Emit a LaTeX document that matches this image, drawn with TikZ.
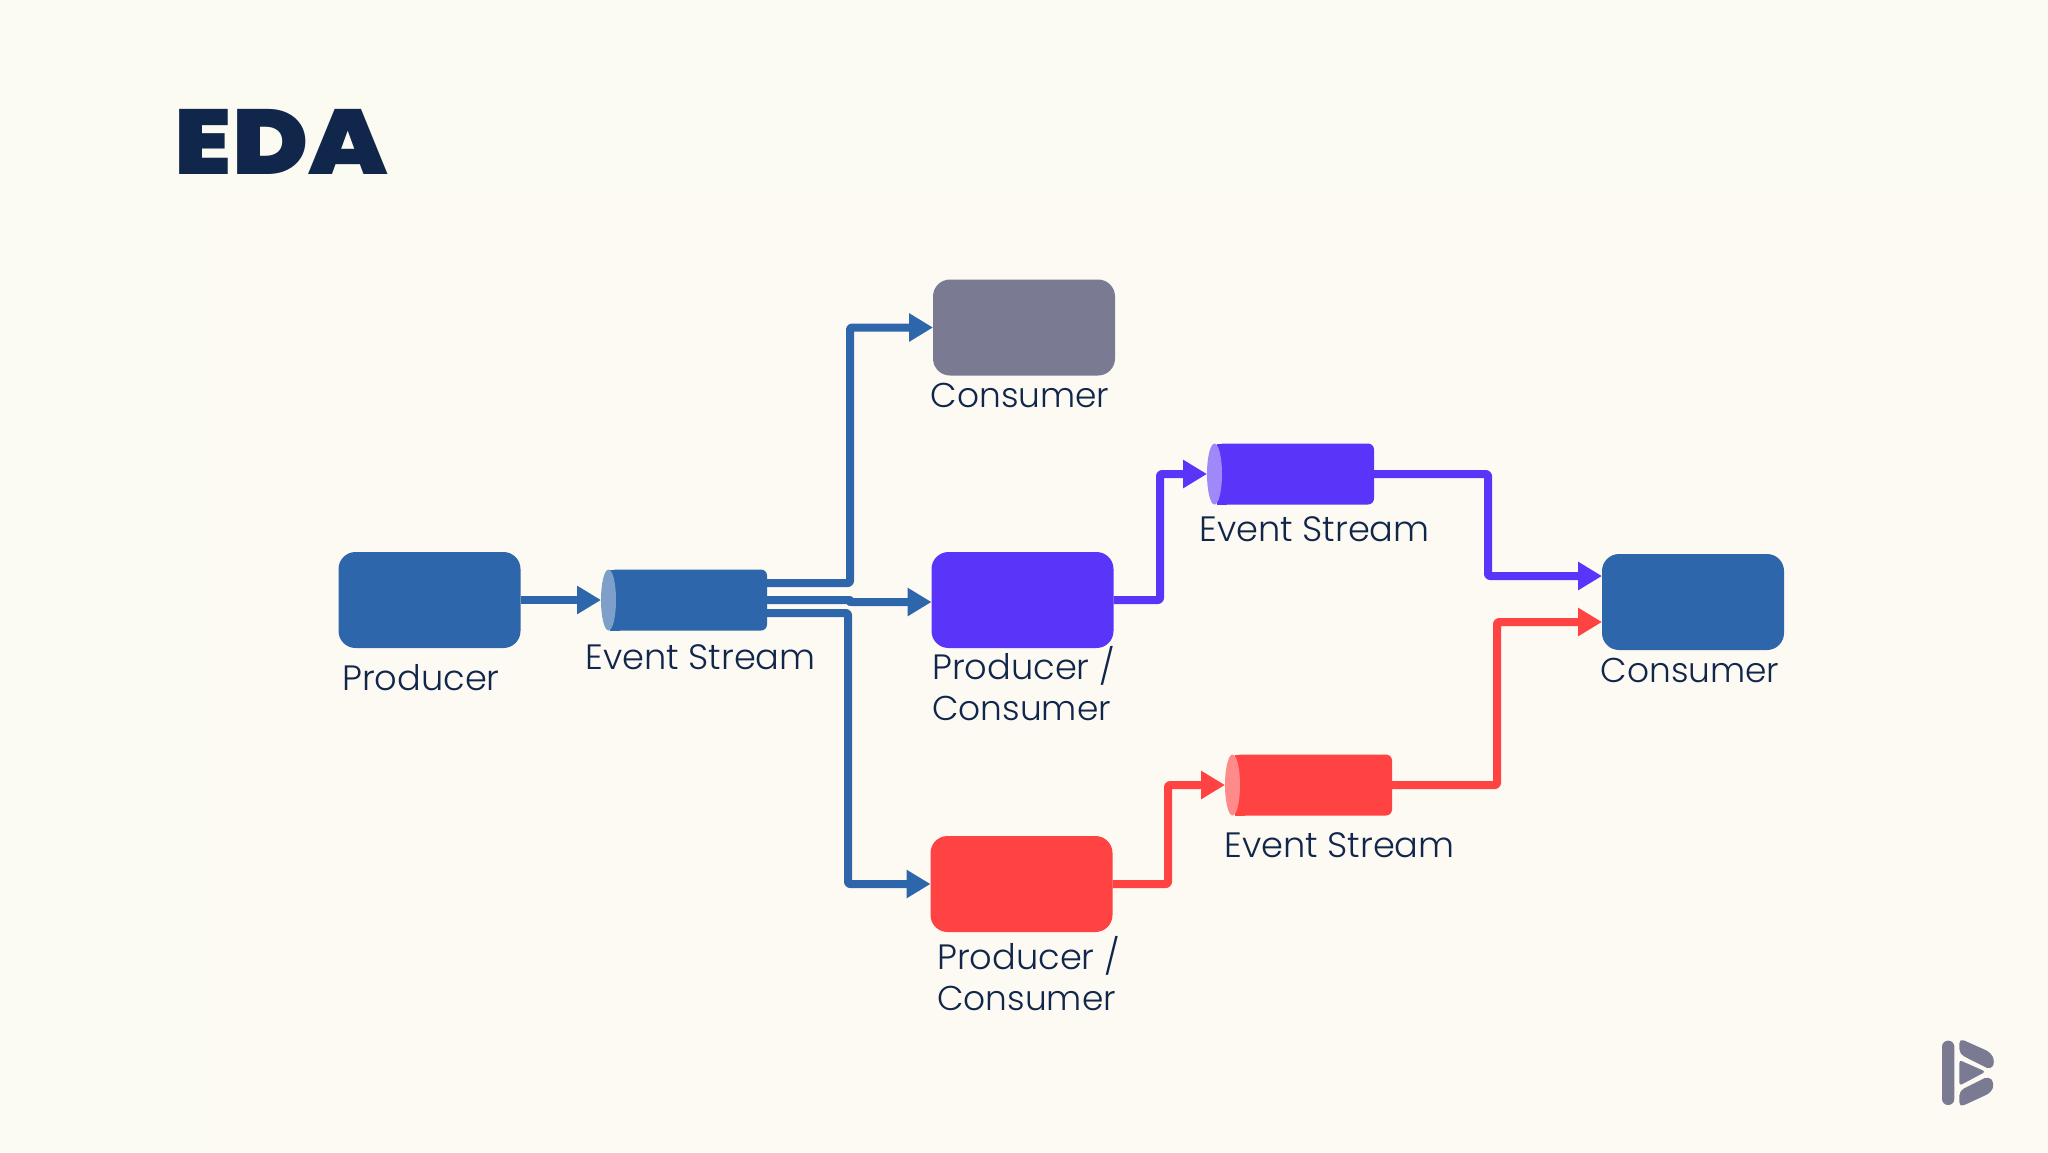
\documentclass[tikz,border=0pt]{standalone}
\usepackage{fontspec}
\setmainfont{Poppins}[UprightFont=* Light]
\newfontfamily\titlefont{Poppins Black}
\usetikzlibrary{arrows.meta,calc,shapes.geometric}
\newcommand{\cfont}{\fontsize{34.4}{41}\selectfont}
\definecolor{bg}{HTML}{FBFBF2}
\definecolor{bginner}{HTML}{FDFAF3}
\definecolor{ink}{HTML}{10264A}
\definecolor{cblue}{HTML}{2E66AC}
\definecolor{cpurple}{HTML}{5B34FA}
\definecolor{cred}{HTML}{FF4242}
\definecolor{cgray}{HTML}{7A7A92}
\definecolor{lblue}{HTML}{7F9FCB}
\definecolor{lpurple}{HTML}{A188F8}
\definecolor{lred}{HTML}{FF8A8A}
\tikzset{
  box/.style={rectangle,rounded corners=17pt,minimum width=182pt,minimum height=96pt,inner sep=0pt,outer sep=0pt},
  stream/.style={rectangle,rounded corners=6pt,minimum width=157pt,minimum height=61pt,inner sep=0pt,outer sep=0pt},
  endcap/.style={ellipse,minimum width=15pt,minimum height=61pt,inner sep=0pt,outer sep=0pt},
  lab/.style={font=\fontsize{35.2}{41}\selectfont,text=ink,inner sep=0pt,align=left},
  conn/.style={line width=8pt,line join=round,rounded corners=2pt},
  arr/.style={conn,-{Triangle[length=24pt,width=27pt]}}
}
\begin{document}
\begin{tikzpicture}[x=1pt,y=-1pt]
\useasboundingbox (0,0) rectangle (2048,1152);
\fill[bg] (0,0) rectangle (2048,1152);
\fill[bginner] (200,195) rectangle (2048,1152);
\node[font=\fontsize{92}{92}\titlefont,text=ink,inner sep=0pt,anchor=center,xscale=1.118] (title) at (281.5,142) {EDA};

% boxes
\node[box,fill=cblue] (prod) at (429.5,600) {};
\node[box,fill=cgray] (cons1) at (1024,327.5) {};
\node[box,fill=cpurple] (pc1) at (1022.5,600) {};
\node[box,fill=cred] (pc2) at (1021.5,884) {};
\node[box,fill=cblue] (cons2) at (1693,602) {};

% streams
\node[stream,fill=cblue] (s1) at (688.5,600) {};
\fill[cblue] (s1.north west) rectangle ([xshift=10pt]s1.south west);
\node[endcap,fill=lblue] (s1cap) at (608.5,600) {};
\node[stream,fill=cpurple] (s2) at (1295.5,474) {};
\fill[cpurple] (s2.north west) rectangle ([xshift=10pt]s2.south west);
\node[endcap,fill=lpurple] (s2cap) at (1214.5,474) {};
\node[stream,fill=cred] (s3) at (1313.5,785) {};
\fill[cred] (s3.north west) rectangle ([xshift=10pt]s3.south west);
\node[endcap,fill=lred] (s3cap) at (1232.5,785) {};

% elbows
\coordinate (e1) at (850,327.5);
\coordinate (e2) at (850,600);
\coordinate (e3) at (848,884);
\coordinate (e4) at (1160,474);
\coordinate (e5) at (1488,576);
\coordinate (e6) at (1168,785);
\coordinate (e7) at (1497,622);

% connectors
\draw[arr,cblue] (prod.east) -- (s1cap.west);
\draw[arr,cblue] ([yshift=17pt]s1.east) -| (e1) -- (cons1.west);
\draw[arr,cblue] (s1.east) -- (e2) |- ([yshift=-2pt]pc1.west);
\draw[arr,cblue] ([yshift=-13pt]s1.east) -| (e3) -- (pc2.west);
\draw[arr,cpurple] (pc1.east) -| (e4) -- (s2cap.west);
\draw[arr,cpurple] (s2.east) -| (e5) -- ([yshift=26pt]cons2.west);
\draw[arr,cred] (pc2.east) -| (e6) -- (s3cap.west);
\draw[arr,cred] (s3.east) -| (e7) -- ([yshift=-20pt]cons2.west);

% labels
\node[lab] (lprod) at (421,678) {Producer};
\node[lab] (ls1) at (700.5,657) {Event Stream};
\node[lab,font=\cfont] (lcons1) at (1020,395) {Consumer};
\node[lab,anchor=north west] (lpc1) at (932,646) {Producer /\\{\cfont Consumer}};
\node[lab] (ls2) at (1314.5,529) {Event Stream};
\node[lab,font=\cfont] (lcons2) at (1690,670) {Consumer};
\node[lab,anchor=north west] (lpc2) at (937,936) {Producer /\\{\cfont Consumer}};
\node[lab] (ls3) at (1339.5,845) {Event Stream};

% logo
\begin{scope}[shift={(1920,1020)},x=0.3333pt,y=-0.3333pt]
\fill[cgray,rounded corners=6pt] (66,62) -- (103,62) -- (103,255) -- (66,255) -- cycle;
\fill[cgray,rounded corners=5pt] (118,55) -- (212,97) -- (225,125) -- (213,150) -- (118,102) -- cycle;
\fill[cgray,rounded corners=3pt] (118,120) -- (197,155) -- (118,197) -- cycle;
\fill[cgray,rounded corners=5pt] (118,262) -- (118,212) -- (207,168) -- (224,190) -- (213,218) -- cycle;
\end{scope}
\end{tikzpicture}
\end{document}
